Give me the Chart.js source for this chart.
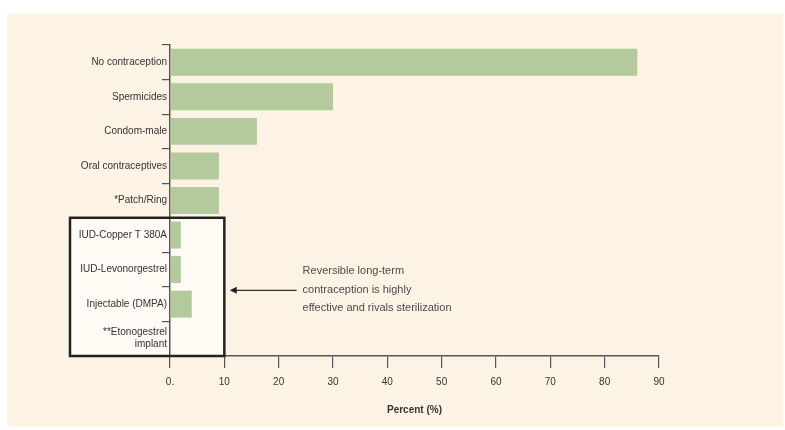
<!DOCTYPE html>
<html>
<head>
<meta charset="utf-8">
<script src="https://cdn.jsdelivr.net/npm/chart.js@4/dist/chart.umd.min.js"></script>
<style>
  html, body { margin: 0; padding: 0; background: #ffffff; }
  #wrap { position: relative; width: 785px; height: 430px; }
</style>
</head>
<body>
<div id="wrap"><canvas id="chart" width="785" height="430"></canvas></div>
<script>
// Contraceptive methods and the percent of women with an unintended pregnancy
const methods = [
  'No contraception',
  'Spermicides',
  'Condom-male',
  'Oral contraceptives',
  '*Patch/Ring',
  'IUD-Copper T 380A',
  'IUD-Levonorgestrel',
  'Injectable (DMPA)',
  ['**Etonogestrel', 'implant']
];
const percentValues = [86, 30, 16, 9, 9, 2, 2, 4, 0];
const percentTicks = ['0.', '10', '20', '30', '40', '50', '60', '70', '80', '90'];
const noteLines = [
  'Reversible long-term',
  'contraception is highly',
  'effective and rivals sterilization'
];

const FONT = "'Liberation Sans', Arial, sans-serif";
const INK = '#333333';

// Cream panel behind the chart, plus the highlighted long-acting box
const panelPlugin = {
  id: 'panel',
  beforeDraw(chart) {
    const { ctx } = chart;
    const y = chart.scales.y, x = chart.scales.x;
    ctx.save();
    ctx.fillStyle = '#ffffff';
    ctx.fillRect(0, 0, chart.width, chart.height);
    ctx.fillStyle = '#fdf3e4';
    ctx.fillRect(7, 13, 776, 414);
    // lighter fill inside the box around the long-acting methods
    const top = (y.getPixelForValue(4) + y.getPixelForValue(5)) / 2;
    const bottom = chart.chartArea.bottom;
    ctx.fillStyle = '#fffaf3';
    ctx.fillRect(70, top, x.getPixelForValue(10) - 70, bottom - top);
    ctx.restore();
  },
  afterDraw(chart) {
    const { ctx } = chart;
    const y = chart.scales.y, x = chart.scales.x;
    const top = (y.getPixelForValue(4) + y.getPixelForValue(5)) / 2;
    const bottom = chart.chartArea.bottom;
    const right = x.getPixelForValue(10);
    ctx.save();
    ctx.strokeStyle = '#222222';
    ctx.lineWidth = 2.5;
    ctx.strokeRect(70, top, right - 70, bottom - top);

    // arrow pointing at the box
    const ay = y.getPixelForValue(6.6);
    const tip = x.getPixelForValue(11);
    const tail = x.getPixelForValue(23.3);
    ctx.strokeStyle = '#333333';
    ctx.lineWidth = 1.2;
    ctx.beginPath();
    ctx.moveTo(tip + 5, ay);
    ctx.lineTo(tail, ay);
    ctx.stroke();
    ctx.fillStyle = '#222222';
    ctx.beginPath();
    ctx.moveTo(tip, ay);
    ctx.lineTo(tip + 7, ay - 3.5);
    ctx.lineTo(tip + 7, ay + 3.5);
    ctx.closePath();
    ctx.fill();

    // note text
    ctx.fillStyle = '#4a4a4a';
    ctx.font = '11px ' + FONT;
    ctx.textAlign = 'left';
    ctx.textBaseline = 'middle';
    const tx = x.getPixelForValue(24.4);
    noteLines.forEach((line, i) => {
      ctx.fillText(line, tx, ay - 19 + i * 18.5);
    });
    ctx.restore();
  }
};

new Chart(document.getElementById('chart'), {
  type: 'bar',
  data: {
    labels: methods,
    datasets: [{
      data: percentValues,
      backgroundColor: '#b4c99c',
      borderWidth: 0,
      categoryPercentage: 1.0,
      barPercentage: 0.78
    }]
  },
  options: {
    indexAxis: 'y',
    responsive: false,
    animation: false,
    layout: { padding: { top: 45, right: 126, bottom: 0, left: 0 } },
    plugins: {
      legend: { display: false },
      tooltip: { enabled: false }
    },
    scales: {
      x: {
        min: 0,
        max: 90,
        afterFit(scale) { scale.height = 74; },
        border: { display: true, color: '#555555', width: 1.5 },
        grid: {
          display: true,
          drawOnChartArea: false,
          drawTicks: true,
          tickLength: 12,
          color: '#555555',
          lineWidth: 1.2
        },
        ticks: {
          stepSize: 10,
          padding: 8,
          color: INK,
          font: { family: FONT, size: 10 },
          callback: (v, i) => percentTicks[i]
        },
        title: {
          display: true,
          text: 'Percent (%)',
          color: INK,
          font: { family: FONT, size: 10, weight: 'bold' },
          padding: { top: 12, bottom: 14 }
        }
      },
      y: {
        afterFit(scale) { scale.width = 170; },
        border: { display: true, color: '#555555', width: 1.5 },
        grid: {
          display: true,
          offset: true,
          drawOnChartArea: false,
          drawTicks: true,
          tickLength: 8,
          color: '#555555',
          lineWidth: 1.2
        },
        ticks: {
          padding: -5,
          color: INK,
          font: { family: FONT, size: 10 }
        }
      }
    }
  },
  plugins: [panelPlugin]
});
</script>
</body>
</html>
